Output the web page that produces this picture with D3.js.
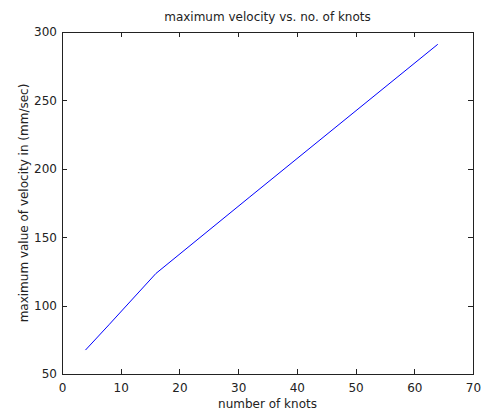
<!DOCTYPE html>
<html>
<head>
<script src="https://cdnjs.cloudflare.com/ajax/libs/d3/7.8.5/d3.min.js"></script>
<style>
  body { margin: 0; background: #fff; }
  text { font-family: "DejaVu Sans", sans-serif; font-size: 12px; fill: #222; }
</style>
</head>
<body>
<div id="vis"></div>
<script>
  // data
  const knots = [4, 8, 16, 32, 64];
  const maxVelocity = [67.5, 86, 123.5, 179.5, 291];
  const xTicks = [0, 10, 20, 30, 40, 50, 60, 70];
  const yTicks = [50, 100, 150, 200, 250, 300];

  const width = 482, height = 416;
  const padLeft = 62, padRight = 473, padTop = 32, padBottom = 374;

  const svg = d3.select("#vis").append("svg")
      .attr("width", width)
      .attr("height", height);

  const x = d3.scaleLinear().domain([0, 70]).range([padLeft, padRight]);
  const y = d3.scaleLinear().domain([50, 300]).range([padBottom, padTop]);

  // box with inward ticks on every side
  const axes = svg.append("g").attr("id", "axes");
  axes.append("g").attr("transform", "translate(0," + padBottom + ")")
      .call(d3.axisBottom(x).tickValues(xTicks).tickSizeInner(-5).tickSizeOuter(0).tickPadding(9));
  axes.append("g").attr("transform", "translate(0," + padTop + ")")
      .call(d3.axisTop(x).tickValues(xTicks).tickSizeInner(-5).tickSizeOuter(0).tickFormat(""));
  axes.append("g").attr("transform", "translate(" + padLeft + ",0)")
      .call(d3.axisLeft(y).tickValues(yTicks).tickSizeInner(-5).tickSizeOuter(0).tickPadding(5));
  axes.append("g").attr("transform", "translate(" + padRight + ",0)")
      .call(d3.axisRight(y).tickValues(yTicks).tickSizeInner(-5).tickSizeOuter(0).tickFormat(""));
  axes.selectAll("path, line").attr("stroke", "#222").attr("shape-rendering", "crispEdges");
  axes.selectAll("text").attr("font-size", 12).attr("font-family", null).attr("fill", "#222");

  svg.append("path")
      .datum(d3.zip(knots, maxVelocity))
      .attr("fill", "none")
      .attr("stroke", "#0000ff")
      .attr("stroke-width", 1)
      .attr("d", d3.line().x(d => x(d[0])).y(d => y(d[1])));

  svg.append("text")
      .attr("x", (padLeft + padRight) / 2).attr("y", 21)
      .attr("text-anchor", "middle")
      .text("maximum velocity vs. no. of knots");

  svg.append("text")
      .attr("x", (padLeft + padRight) / 2).attr("y", 408)
      .attr("text-anchor", "middle")
      .text("number of knots");

  svg.append("text")
      .attr("transform", "translate(28," + (padTop + padBottom) / 2 + ") rotate(-90)")
      .attr("text-anchor", "middle")
      .text("maximum value of velocity in (mm/sec)");
</script>
</body>
</html>
